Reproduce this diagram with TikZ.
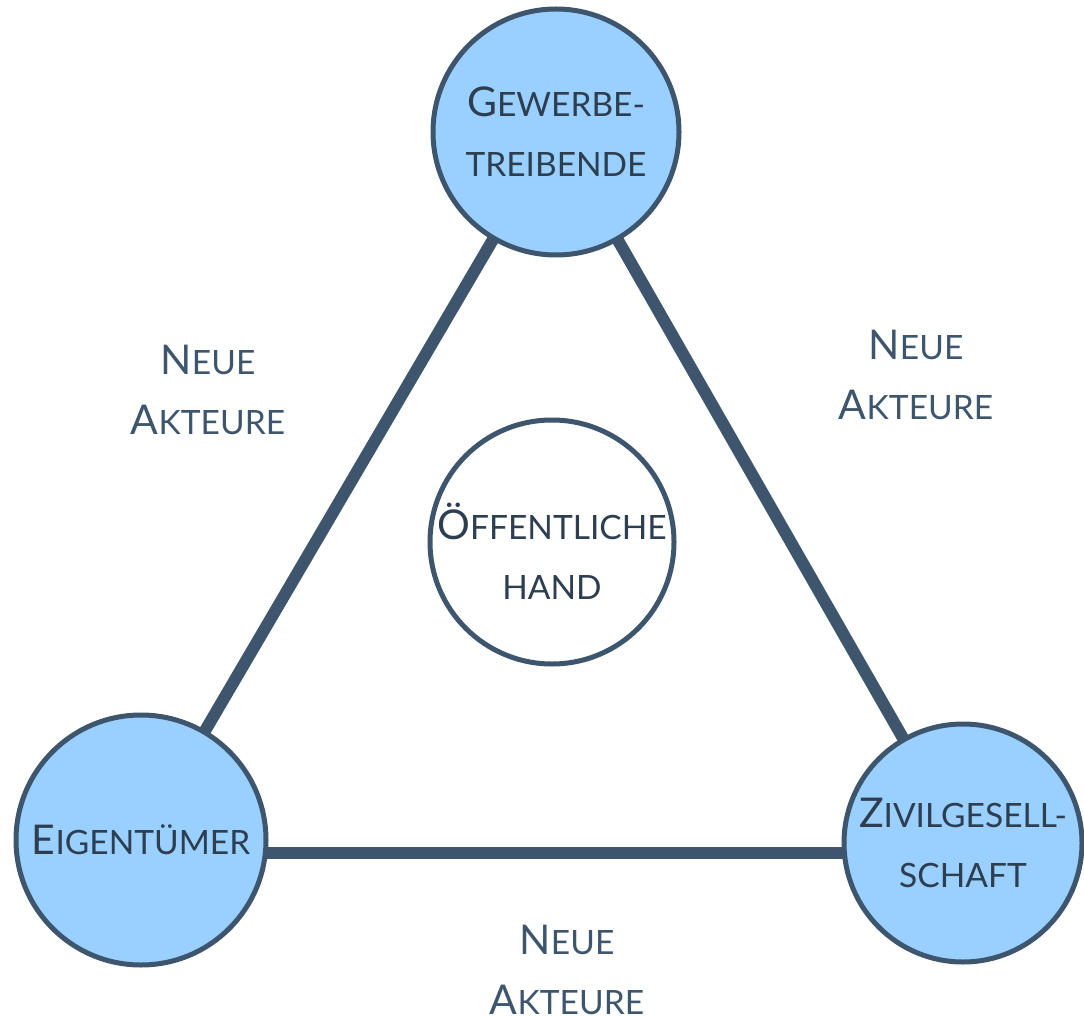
\documentclass[tikz,border=0pt]{standalone}
\usepackage{fontspec}
\setmainfont{Lato}
\definecolor{edgec}{HTML}{3D566E}
\definecolor{fillc}{HTML}{99D0FF}
\definecolor{txtc}{HTML}{2C3E50}
\definecolor{lblc}{HTML}{3D566E}
\newcommand{\capbig}[1]{{\fontsize{41}{60}\selectfont #1}}
\newcommand{\capsml}[1]{{\fontsize{33.5}{60}\selectfont #1}}
\tikzset{
  actor/.style={circle, draw=edgec, line width=5pt, fill=fillc, minimum size=246pt, inner sep=-20pt, align=center, text=txtc, font=\fontsize{33.5}{60}\selectfont},
  center/.style={circle, draw=edgec, line width=5pt, fill=white, minimum size=244pt, inner sep=-20pt, align=center, text=txtc, font=\fontsize{33.5}{60}\selectfont},
  link/.style={draw=edgec, line width=12pt},
  lbl/.style={align=center, text=lblc, font=\fontsize{33.5}{60}\selectfont}
}
\begin{document}
\begin{tikzpicture}[x=1pt,y=-1pt]
\useasboundingbox (0,0) rectangle (1084,1016);
\coordinate (ct) at (556,132);
\coordinate (cl) at (141,840);
\coordinate (cr) at (963,843);
\draw[link] (ct) -- (cl);
\draw[link] (ct) -- (cr);
\draw[link] ([yshift=-13pt]cl) -- ([yshift=-10pt]cr);
\node[actor] (top) at (ct) {\capbig{G}\capsml{EWERBE-}\\TREIBENDE};
\node[actor, minimum size=250pt] (left) at (cl) {\capbig{E}\capsml{IGENTÜMER}};
\node[actor, minimum size=238pt] (right) at (cr) {\capbig{Z}\capsml{IVILGESELL-}\\SCHAFT};
\node[center] (mid) at (552,542) {\rule{0pt}{54pt}\capbig{Ö}\capsml{FFENTLICHE}\\HAND};
\node[lbl] (la) at (208,390) {\capbig{N}\capsml{EUE}\\\capbig{A}\capsml{KTEURE}};
\node[lbl] (ra) at (916,375) {\capbig{N}\capsml{EUE}\\\capbig{A}\capsml{KTEURE}};
\node[lbl] (ba) at (567,970) {\capbig{N}\capsml{EUE}\\\capbig{A}\capsml{KTEURE}};
\end{tikzpicture}
\end{document}
